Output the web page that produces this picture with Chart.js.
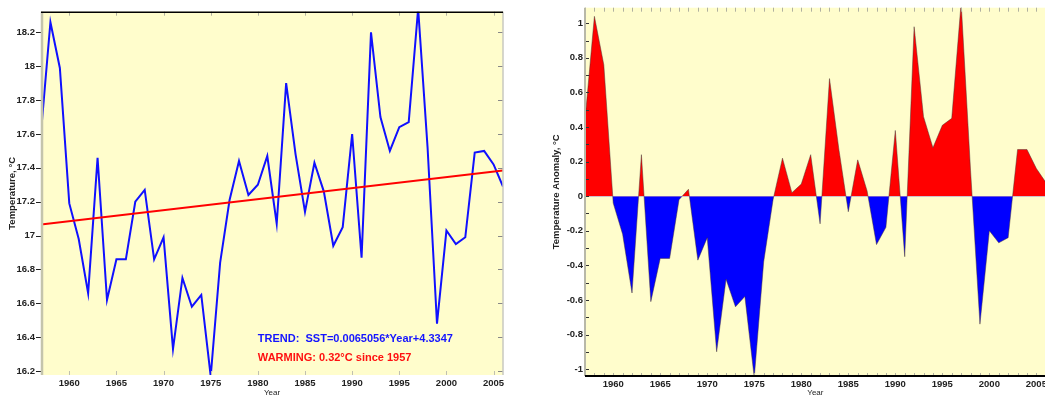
<!DOCTYPE html>
<html>
<head>
<meta charset="utf-8">
<script src="https://cdn.jsdelivr.net/npm/chart.js@4.4.1/dist/chart.umd.min.js"></script>
<style>
  html, body { margin: 0; padding: 0; background: #fff; overflow: hidden; width: 1045px; height: 400px; }
  #sst { position: absolute; left: 0; top: 0; }
  #anom { position: absolute; left: 530px; top: 0; }
</style>
</head>
<body>
<canvas id="sst" width="520" height="400"></canvas>
<canvas id="anom" width="520" height="400"></canvas>
<script>
// data
var years = [1957, 1958, 1959, 1960, 1961, 1962, 1963, 1964, 1965, 1966,
             1967, 1968, 1969, 1970, 1971, 1972, 1973, 1974, 1975, 1976,
             1977, 1978, 1979, 1980, 1981, 1982, 1983, 1984, 1985, 1986,
             1987, 1988, 1989, 1990, 1991, 1992, 1993, 1994, 1995, 1996,
             1997, 1998, 1999, 2000, 2001, 2002, 2003, 2004, 2005, 2006];
var sstValues = [17.61, 18.26, 17.99, 17.19, 16.98, 16.66, 17.46, 16.62, 16.86, 16.86,
                 17.20, 17.27, 16.86, 16.99, 16.33, 16.75, 16.58, 16.65, 16.17, 16.84,
                 17.21, 17.44, 17.24, 17.30, 17.47, 17.07, 17.90, 17.48, 17.14, 17.43,
                 17.26, 16.94, 17.05, 17.60, 16.87, 18.20, 17.70, 17.50, 17.64, 17.67,
                 18.34, 17.52, 16.48, 17.03, 16.95, 16.99, 17.49, 17.50, 17.42, 17.29];
var anomalyValues = [0.44, 1.04, 0.76, -0.04, -0.22, -0.56, 0.24, -0.61, -0.36, -0.36,
                     -0.02, 0.04, -0.37, -0.24, -0.90, -0.48, -0.64, -0.58, -1.05, -0.38,
                     -0.02, 0.22, 0.02, 0.07, 0.24, -0.16, 0.68, 0.27, -0.09, 0.21,
                     0.03, -0.28, -0.18, 0.38, -0.35, 0.98, 0.46, 0.28, 0.41, 0.45,
                     1.12, 0.15, -0.74, -0.20, -0.27, -0.24, 0.27, 0.27, 0.16, 0.08];
var trendYears = [1957, 2006];
var trendValues = [17.066, 17.385];

var yearTicks = [1960, 1965, 1970, 1975, 1980, 1985, 1990, 1995, 2000, 2005];
var sstTicks = [16.2, 16.4, 16.6, 16.8, 17, 17.2, 17.4, 17.6, 17.8, 18, 18.2];
var anomalyTicks = [-1, -0.8, -0.6, -0.4, -0.2, 0, 0.2, 0.4, 0.6, 0.8, 1];
var anomalyMinor = [-1, -0.9, -0.8, -0.7, -0.6, -0.5, -0.4, -0.3, -0.2, -0.1, 0,
                    0.1, 0.2, 0.3, 0.4, 0.5, 0.6, 0.7, 0.8, 0.9, 1];

var trendText = 'TREND:  SST=0.0065056*Year+4.3347';
var warmingText = 'WARMING: 0.32\u00B0C since 1957';

var fontFamily = '"Liberation Sans", Arial, sans-serif';
var tickFont = { family: fontFamily, size: 9.5, weight: 'bold' };
var titleFont = { family: fontFamily, size: 9.5, weight: 'bold' };
var yearFont = { family: fontFamily, size: 8 };
var paper = '#fffdcc';

function pts(xs, ys) {
    return xs.map(function (x, i) { return { x: x, y: ys[i] }; });
}
function fixTicks(list) {
    return function (scale) {
        scale.ticks = list.map(function (v) { return { value: v }; });
    };
}
function oneDecimal(v) {
    return String(Math.round(v * 10) / 10);
}

// background, frame lines, inward tick marks and text notes
var framePlugin = {
    id: 'frame',
    beforeDraw: function (chart, args, opts) {
        var a = chart.chartArea, ctx = chart.ctx;
        ctx.save();
        ctx.fillStyle = opts.background;
        ctx.fillRect(a.left, a.top, a.right - a.left, a.bottom - a.top);
        ctx.restore();
    },
    afterDraw: function (chart, args, opts) {
        var a = chart.chartArea, ctx = chart.ctx;
        ctx.save();
        (opts.marks || []).forEach(function (m) {
            var scale = chart.scales[m.axis];
            ctx.strokeStyle = m.color;
            ctx.lineWidth = 1;
            ctx.beginPath();
            m.values.forEach(function (v) {
                var p = Math.round(scale.getPixelForValue(v)) + 0.5;
                if (m.side === 'top') { ctx.moveTo(p, a.top); ctx.lineTo(p, a.top + m.len); }
                else if (m.side === 'bottom') { ctx.moveTo(p, a.bottom); ctx.lineTo(p, a.bottom - m.len); }
                else if (m.side === 'left') { ctx.moveTo(a.left + (m.from || 0), p); ctx.lineTo(a.left + m.len, p); }
                else { ctx.moveTo(a.right, p); ctx.lineTo(a.right - m.len, p); }
            });
            ctx.stroke();
        });
        (opts.edges || []).forEach(function (e) {
            var off = e.offset || 0;
            ctx.strokeStyle = e.color;
            ctx.lineWidth = e.width;
            ctx.beginPath();
            if (e.side === 'top') { ctx.moveTo(a.left, a.top + off); ctx.lineTo(a.right, a.top + off); }
            else if (e.side === 'bottom') { ctx.moveTo(a.left, a.bottom + off); ctx.lineTo(a.right, a.bottom + off); }
            else if (e.side === 'left') { ctx.moveTo(a.left + off, a.top); ctx.lineTo(a.left + off, a.bottom); }
            else { ctx.moveTo(a.right + off, a.top); ctx.lineTo(a.right + off, a.bottom); }
            ctx.stroke();
        });
        (opts.notes || []).forEach(function (n) {
            ctx.font = n.font;
            ctx.fillStyle = n.color;
            ctx.textAlign = 'left';
            ctx.textBaseline = 'middle';
            ctx.fillText(n.text, chart.scales.x.getPixelForValue(n.x), chart.scales.y.getPixelForValue(n.y));
        });
        ctx.restore();
    }
};

var sstChart = new Chart(document.getElementById('sst'), {
    type: 'line',
    data: {
        datasets: [{
            data: pts(trendYears, trendValues),
            borderColor: '#ff0000',
            borderWidth: 2,
            pointRadius: 0,
            fill: false
        }, {
            data: pts(years, sstValues),
            borderColor: '#1010ff',
            borderWidth: 2,
            pointRadius: 0,
            tension: 0,
            fill: false
        }]
    },
    options: {
        responsive: false,
        animation: false,
        layout: { padding: { left: 0, top: 5, right: 17, bottom: 0 } },
        plugins: {
            legend: { display: false },
            tooltip: { enabled: false },
            frame: {
                background: paper,
                edges: [
                    { side: 'left', color: '#c4c4ac', width: 2.5, offset: 1 },
                    { side: 'right', color: '#c8c8c0', width: 1.5, offset: 0 },
                    { side: 'top', color: '#000', width: 1.5, offset: 0.5 }
                ],
                marks: [
                    { axis: 'x', side: 'top', len: 4, color: '#b0b0a0', values: yearTicks },
                    { axis: 'x', side: 'bottom', len: 4, color: '#c0c0b0', values: yearTicks },
                    { axis: 'y', side: 'right', len: 5, color: '#888', values: sstTicks },
                    { axis: 'y', side: 'left', from: -5, len: 0, color: '#222', values: sstTicks }
                ],
                notes: [
                    { text: trendText, x: 1980, y: 16.39, color: '#1414ff', font: 'bold 11px ' + fontFamily },
                    { text: warmingText, x: 1980, y: 16.28, color: '#ff1010', font: 'bold 11px ' + fontFamily }
                ]
            }
        },
        scales: {
            x: {
                type: 'linear',
                min: 1957,
                max: 2006,
                afterBuildTicks: fixTicks(yearTicks),
                afterFit: function (s) { s.height = 25; },
                grid: { display: false, drawTicks: false },
                border: { display: false },
                ticks: { font: tickFont, color: '#222', padding: 3, maxRotation: 0, autoSkip: false,
                         callback: function (v) { return String(v); } },
                title: { display: true, text: 'Year', font: yearFont, color: '#222', padding: { top: 0, bottom: 2 } }
            },
            y: {
                min: 16.177,
                max: 18.322,
                afterBuildTicks: fixTicks(sstTicks),
                afterFit: function (s) { s.width = 41; },
                grid: { display: false, drawTicks: false },
                border: { display: false },
                ticks: { font: tickFont, color: '#222', padding: 6, autoSkip: false, callback: oneDecimal },
                title: { display: true, text: 'Temperature, \u00B0C', font: titleFont, color: '#222', padding: { top: 7, bottom: 0 } }
            }
        }
    },
    plugins: [framePlugin]
});

var anomalyChart = new Chart(document.getElementById('anom'), {
    type: 'line',
    data: {
        datasets: [{
            data: pts(years, anomalyValues),
            borderColor: 'rgba(70,50,50,0.6)',
            borderWidth: 0.8,
            pointRadius: 0,
            tension: 0,
            fill: { target: 'origin', above: '#ff0000', below: '#0000ff' }
        }]
    },
    options: {
        responsive: false,
        animation: false,
        layout: { padding: { left: 0, top: 7, right: 3, bottom: 0 } },
        plugins: {
            legend: { display: false },
            tooltip: { enabled: false },
            frame: {
                background: paper,
                edges: [
                    { side: 'left', color: '#b8b8a8', width: 2, offset: 0 },
                    { side: 'bottom', color: '#000', width: 2, offset: 0 }
                ],
                marks: [
                    { axis: 'x', side: 'top', len: 4, color: '#b0b0a0', values: years },
                    { axis: 'x', side: 'bottom', len: 3, color: '#b0b0a0', values: years },
                    { axis: 'y', side: 'left', len: 4, color: '#333', values: anomalyMinor }
                ]
            }
        },
        scales: {
            x: {
                type: 'linear',
                min: 1957,
                max: 2006,
                afterBuildTicks: fixTicks(yearTicks),
                afterFit: function (s) { s.height = 24; },
                grid: { display: false, drawTicks: false },
                border: { display: false },
                ticks: { font: tickFont, color: '#222', padding: 3, maxRotation: 0, autoSkip: false,
                         callback: function (v) { return String(v); } },
                title: { display: true, text: 'Year', font: yearFont, color: '#222', padding: { top: 0, bottom: 2 } }
            },
            y: {
                min: -1.04,
                max: 1.09,
                afterBuildTicks: fixTicks(anomalyTicks),
                afterFit: function (s) { s.width = 55; },
                grid: { display: false, drawTicks: false },
                border: { display: false },
                ticks: { font: tickFont, color: '#222', padding: 2, autoSkip: false, callback: oneDecimal },
                title: { display: true, text: 'Temperature Anomaly, \u00B0C', font: titleFont, color: '#222', padding: { top: 21, bottom: 0 } }
            }
        }
    },
    plugins: [framePlugin]
});
</script>
</body>
</html>
